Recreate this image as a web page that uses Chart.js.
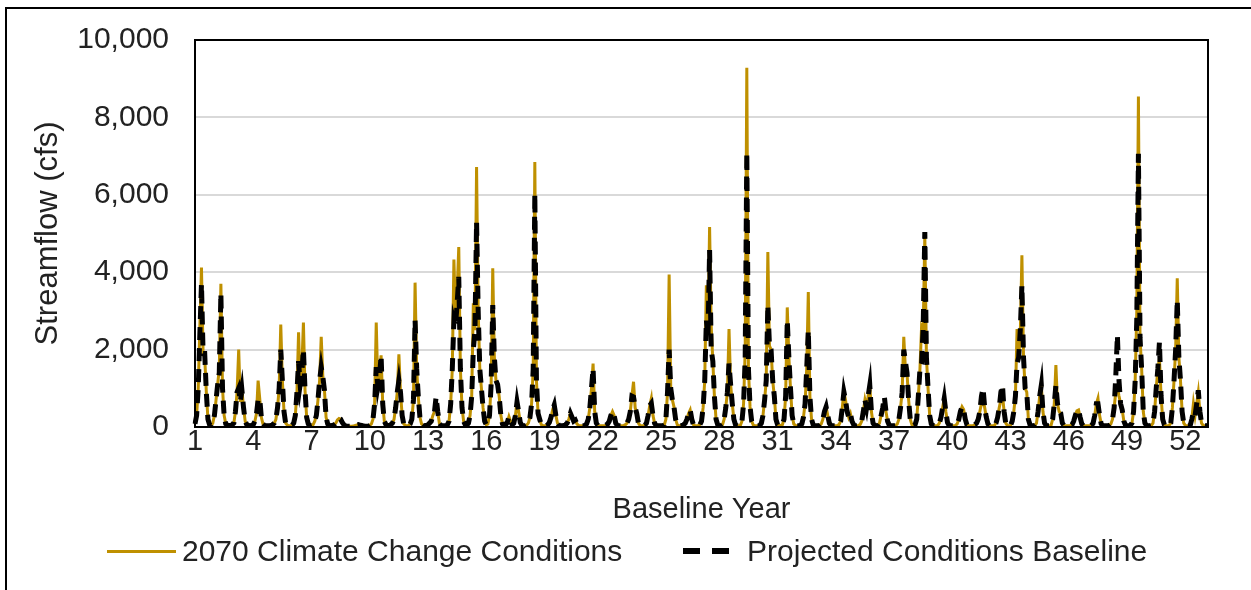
<!DOCTYPE html>
<html>
<head>
<meta charset="utf-8">
<title>Streamflow</title>
<script src="https://cdn.jsdelivr.net/npm/chart.js@4.4.0/dist/chart.umd.min.js"></script>
<style>
    html, body { margin: 0; padding: 0; background: #fff; }
    #quadro { position: relative; width: 1251px; height: 590px; overflow: hidden; background: #fff; font-family: 'Liberation Sans', Arial, sans-serif; color: #222; }
    #moldura { position: absolute; left: 5px; top: 7px; width: 1400px; height: 800px; border-left: 2px solid #000; border-top: 2px solid #000; }
    #grafico { position: absolute; left: 0; top: 0; }
    .itemLegenda { position: absolute; top: 533px; height: 36px; display: flex; align-items: center; font-size: 30px; white-space: nowrap; }
    .linhaCheia { width: 69px; height: 3px; margin-right: 6px; }
    .linhaTracejada { width: 46px; height: 6px; margin-right: 18px; }
</style>
</head>
<body>
<div id="quadro">
    <div id="moldura"></div>
    <canvas id="grafico" width="1251" height="590"></canvas>
    <div class="itemLegenda" id="legendaCenario" style="left:107px"><span class="linhaCheia"></span><span class="texto"></span></div>
    <div class="itemLegenda" id="legendaBase" style="left:683px"><span class="linhaTracejada"></span><span class="texto"></span></div>
</div>
<script>
    //Anos que recebem rótulo no eixo X
    const anosRotulados = [1, 4, 7, 10, 13, 16, 19, 22, 25, 28, 31, 34, 37, 40, 43, 46, 49, 52];

    const nomeCenario = '2070 Climate Change Conditions';
    const nomeBase = 'Projected Conditions Baseline';

    //Vazão mensal (cfs) - cenário 2070
    const vazaoCenario = [
        80, 300, 1000, 2600, 4120, 1900, 1800, 900, 200, 60, 40, 100,
        300, 700, 1100, 1500, 3700, 1000, 300, 80, 50, 40, 40, 60,
        100, 400, 900, 2000, 650, 950, 500, 150, 60, 40, 30, 40,
        60, 150, 350, 1200, 740, 250, 80, 40, 30, 30, 30, 40, 60,
        100, 200, 500, 1000, 2650, 1200, 400, 100, 50, 30, 30, 50,
        100, 300, 900, 2450, 1000, 1500, 2700, 950, 250, 80, 40, 40,
        60, 150, 300, 700, 1200, 2330, 1300, 950, 250, 80, 40, 30,
        40, 60, 100, 180, 220, 200, 120, 60, 30, 20, 20, 20,
        20, 30, 40, 50, 60, 50, 40, 30, 20, 20, 20, 40,
        80, 200, 600, 2700, 1050, 1300, 1850, 600, 150, 60, 40, 40,
        60, 100, 200, 500, 900, 1880, 900, 300, 80, 40, 30, 40,
        80, 200, 700, 3730, 1500, 780, 250, 80, 40, 30, 40, 60,
        100, 150, 300, 400, 570, 400, 100, 40, 30, 30, 30, 60, 150,
        600, 1500, 4330, 2800, 3500, 4650, 1500, 500, 150, 60, 50, 100,
        300, 800, 3200, 2500, 6720, 3000, 1500, 1000, 500, 150, 60, 80,
        300, 1100, 4100, 1800, 1200, 1100, 780, 300, 80, 40, 60, 120,
        270, 150, 60, 100, 300, 650, 400, 120, 40, 30, 30, 50,
        100, 250, 600, 1500, 6850, 1200, 350, 200, 60, 30, 30, 40,
        60, 120, 250, 450, 570, 300, 100, 40, 30, 30, 40, 60,
        100, 200, 350, 250, 150, 180, 80, 40, 30, 30, 30, 40,
        80, 200, 500, 1000, 1640, 400, 100, 40, 30, 30, 30, 30, 50,
        80, 150, 300, 400, 300, 100, 40, 30, 30, 30, 40, 60,
        100, 200, 400, 800, 1170, 500, 350, 100, 40, 30, 30, 50,
        100, 300, 550, 740, 300, 100, 40, 30, 30, 30, 30, 50,
        200, 900, 3940, 1000, 700, 520, 200, 60, 30, 30, 40, 60,
        100, 200, 350, 440, 200, 60, 30, 30, 40, 60, 150, 500,
        1200, 3660, 2500, 5170, 2600, 1700, 780, 200, 60, 30, 30, 60,
        200, 500, 900, 2530, 1100, 610, 200, 60, 30, 30, 40, 150,
        600, 2000, 9280, 1500, 520, 150, 50, 30, 30, 30, 40, 100,
        300, 700, 1200, 4520, 2100, 2000, 1200, 800, 200, 60, 40, 40, 60,
        200, 800, 3090, 1800, 1000, 300, 80, 40, 30, 30, 40, 80,
        250, 600, 1500, 3490, 780, 200, 60, 30, 30, 30, 40, 80,
        200, 400, 520, 300, 100, 40, 30, 30, 30, 40, 60, 150,
        500, 910, 700, 400, 250, 350, 150, 60, 30, 30, 40, 60,
        150, 400, 700, 500, 800, 1080, 400, 100, 40, 30, 40, 100,
        300, 500, 610, 400, 150, 50, 30, 30, 30, 40, 80, 200,
        500, 900, 2330, 1500, 1400, 700, 200, 60, 40, 60, 200, 800,
        1500, 2590, 2500, 4950, 1800, 1000, 300, 80, 40, 30, 30, 40, 100,
        250, 500, 740, 400, 120, 40, 30, 30, 30, 40, 80, 200,
        400, 520, 450, 200, 60, 30, 30, 30, 40, 60, 100, 200,
        400, 600, 700, 500, 250, 80, 30, 30, 30, 40, 100, 250,
        500, 700, 830, 400, 100, 40, 30, 40, 150, 400, 800, 2530,
        1800, 2400, 4440, 1800, 1000, 900, 200, 60, 30, 30, 40, 100,
        400, 800, 1080, 400, 100, 40, 30, 30, 40, 200, 600, 1600,
        600, 400, 350, 100, 40, 30, 30, 30, 40, 60, 150, 300,
        420, 440, 250, 80, 30, 30, 30, 30, 30, 40, 100, 300,
        600, 740, 300, 80, 30, 30, 30, 30, 40, 80, 200, 500, 900,
        1040, 800, 600, 440, 150, 50, 30, 30, 40, 100, 400, 1200,
        3000, 8540, 2300, 1500, 400, 100, 40, 30, 30, 40, 100, 400,
        1000, 1500, 1770, 800, 200, 60, 30, 30, 40, 100, 500, 1200,
        2000, 3840, 1800, 1200, 400, 100, 40, 30, 30, 40, 200, 610,
        300, 600, 900, 400, 100, 40, 30, 30, 40
    ];

    //Vazão mensal (cfs) - linha de base projetada
    const vazaoBase = [
        80, 300, 1000, 2400, 3700, 1900, 1900, 900, 200, 60, 40, 100,
        300, 700, 1100, 1400, 3450, 1000, 300, 80, 50, 40, 40, 60,
        100, 400, 900, 1000, 650, 950, 500, 150, 60, 40, 30, 40,
        60, 150, 350, 700, 740, 250, 80, 40, 30, 30, 30, 40, 60,
        100, 200, 500, 1000, 2000, 1200, 400, 100, 50, 30, 30, 50,
        100, 300, 900, 1700, 1100, 1400, 2000, 950, 250, 80, 40, 40,
        60, 150, 300, 700, 1200, 1550, 1300, 950, 250, 80, 40, 30,
        40, 60, 100, 180, 220, 200, 120, 60, 30, 20, 20, 20,
        20, 30, 40, 50, 60, 50, 40, 30, 20, 20, 20, 40,
        80, 200, 600, 1550, 1050, 1300, 1850, 600, 150, 60, 40, 40,
        60, 100, 200, 500, 900, 1200, 900, 300, 80, 40, 30, 40,
        80, 200, 700, 2760, 1500, 780, 250, 80, 40, 30, 40, 60,
        100, 150, 300, 400, 780, 400, 100, 40, 30, 30, 30, 60, 150,
        600, 1500, 2760, 2600, 3200, 3880, 1500, 500, 150, 60, 50, 100,
        300, 800, 2000, 2500, 5300, 3000, 1500, 1000, 500, 150, 60, 80,
        300, 1100, 3150, 1800, 1200, 1100, 780, 300, 80, 40, 60, 120,
        270, 150, 60, 100, 300, 650, 400, 120, 40, 30, 30, 50,
        100, 250, 600, 1500, 6030, 1200, 350, 200, 60, 30, 30, 40,
        60, 120, 250, 450, 570, 300, 100, 40, 30, 30, 40, 60,
        100, 200, 350, 250, 150, 180, 80, 40, 30, 30, 30, 40,
        80, 200, 500, 1000, 1510, 400, 100, 40, 30, 30, 30, 30, 50,
        80, 150, 300, 400, 300, 100, 40, 30, 30, 30, 40, 60,
        100, 200, 400, 800, 780, 500, 350, 100, 40, 30, 30, 50,
        100, 300, 550, 610, 300, 100, 40, 30, 30, 30, 30, 50,
        200, 900, 2000, 1000, 700, 520, 200, 60, 30, 30, 40, 60,
        100, 200, 350, 440, 200, 60, 30, 30, 40, 60, 150, 500,
        1200, 2760, 2300, 4570, 2000, 1700, 780, 200, 60, 30, 30, 60,
        200, 500, 900, 1640, 1100, 610, 200, 60, 30, 30, 40, 150,
        600, 1800, 7100, 1500, 520, 150, 50, 30, 30, 30, 40, 100,
        300, 700, 1200, 3150, 2100, 2000, 1200, 800, 200, 60, 40, 40, 60,
        200, 800, 2760, 1800, 1000, 300, 80, 40, 30, 30, 40, 80,
        250, 600, 1500, 2500, 780, 200, 60, 30, 30, 30, 40, 80,
        200, 400, 520, 300, 100, 40, 30, 30, 30, 40, 60, 150,
        500, 910, 700, 400, 250, 350, 150, 60, 30, 30, 40, 60,
        150, 400, 700, 500, 800, 1080, 400, 100, 40, 30, 40, 100,
        300, 500, 780, 400, 150, 50, 30, 30, 30, 40, 80, 200,
        500, 900, 2000, 1700, 1400, 700, 200, 60, 40, 60, 200, 800,
        1500, 1640, 2600, 5040, 1800, 1000, 300, 80, 40, 30, 30, 40, 100,
        250, 500, 740, 400, 120, 40, 30, 30, 30, 40, 80, 200,
        400, 520, 450, 200, 60, 30, 30, 30, 40, 60, 100, 200,
        400, 800, 1000, 500, 250, 80, 30, 30, 30, 40, 100, 250,
        500, 900, 1080, 400, 100, 40, 30, 40, 150, 400, 800, 1640,
        1800, 2500, 3660, 1800, 1000, 900, 200, 60, 30, 30, 40, 100,
        400, 800, 1080, 400, 100, 40, 30, 30, 40, 200, 600, 1080,
        600, 400, 350, 100, 40, 30, 30, 30, 40, 60, 150, 300,
        420, 440, 250, 80, 30, 30, 30, 30, 30, 40, 100, 300,
        600, 600, 300, 80, 30, 30, 30, 30, 40, 80, 200, 500, 1300,
        2370, 1200, 600, 440, 150, 50, 30, 30, 40, 100, 400, 1200,
        2800, 7060, 2300, 1500, 400, 100, 40, 30, 30, 40, 100, 400,
        1000, 1500, 2200, 800, 200, 60, 30, 30, 40, 100, 500, 1200,
        2000, 3280, 1800, 1200, 400, 100, 40, 30, 30, 40, 200, 400,
        300, 600, 950, 400, 100, 40, 30, 30, 40
    ];

    //Uma categoria por mês, identificada pelo ano da série
    const anoDoMes = vazaoCenario.map((v, i) => Math.floor(i / 12) + 1);

    const corCenario = '#BF9000';
    const corBase = '#000000';
    const corTexto = '#222222';
    const familia = "'Liberation Sans', Arial, sans-serif";

    //Legenda em HTML
    document.querySelector('#legendaCenario .linhaCheia').style.background = corCenario;
    document.querySelector('#legendaCenario .texto').textContent = nomeCenario;
    document.querySelector('#legendaBase .linhaTracejada').style.background =
        'repeating-linear-gradient(to right, ' + corBase + ' 0 17px, transparent 17px 29px)';
    document.querySelector('#legendaBase .texto').textContent = nomeBase;

    //Contorno preto da área de plotagem
    const molduraPlot = {
        id: 'molduraPlot',
        afterDraw(chart) {
            const { ctx, chartArea } = chart;
            ctx.save();
            ctx.strokeStyle = '#000';
            ctx.lineWidth = 2;
            ctx.strokeRect(chartArea.left, chartArea.top, chartArea.right - chartArea.left, chartArea.bottom - chartArea.top);
            ctx.restore();
        }
    };

    const dadosVazao = {
        labels: anoDoMes,
        datasets: [{
            label: nomeCenario,
            data: vazaoCenario,
            borderColor: corCenario,
            borderWidth: 3,
            pointRadius: 0,
            tension: 0,
            order: 2
        }, {
            label: nomeBase,
            data: vazaoBase,
            borderColor: corBase,
            borderWidth: 5,
            borderDash: [13, 8],
            pointRadius: 0,
            tension: 0,
            order: 1
        }]
    };

    const graficoVazao = new Chart(document.getElementById('grafico'), {
        type: 'line',
        data: dadosVazao,
        options: {
            responsive: false,
            animation: false,
            devicePixelRatio: 1,
            layout: { padding: { top: 40, right: 43, bottom: 0, left: 0 } },
            plugins: {
                legend: { display: false },
                tooltip: { enabled: false }
            },
            scales: {
                x: {
                    grid: { display: false },
                    border: { display: false },
                    ticks: {
                        autoSkip: false,
                        maxRotation: 0,
                        minRotation: 0,
                        padding: -10,
                        color: corTexto,
                        font: { family: familia, size: 29 },
                        callback: function (valor, indice) {
                            const ano = anoDoMes[indice];
                            return (indice % 12 === 0 && anosRotulados.includes(ano)) ? String(ano) : '';
                        }
                    },
                    title: {
                        display: true,
                        text: 'Baseline Year',
                        color: corTexto,
                        font: { family: familia, size: 29 },
                        padding: { top: 0, bottom: 63 }
                    },
                    afterFit(escala) { escala.height = 163; }
                },
                y: {
                    min: 0,
                    max: 10000,
                    grid: { color: '#d9d9d9', lineWidth: 2, drawTicks: false },
                    border: { display: false },
                    ticks: {
                        stepSize: 2000,
                        padding: 26,
                        color: corTexto,
                        font: { family: familia, size: 30 },
                        callback: (valor) => valor.toLocaleString('en-US')
                    },
                    title: {
                        display: true,
                        text: 'Streamflow (cfs)',
                        color: corTexto,
                        font: { family: familia, size: 31 },
                        padding: { top: 30, bottom: 0 }
                    },
                    afterFit(escala) {
                        escala.width = 195;
                        //o topo da área de plotagem fica só com o padding do layout
                        escala.paddingTop = 0;
                    }
                }
            }
        },
        plugins: [molduraPlot]
    });
</script>
</body>
</html>
